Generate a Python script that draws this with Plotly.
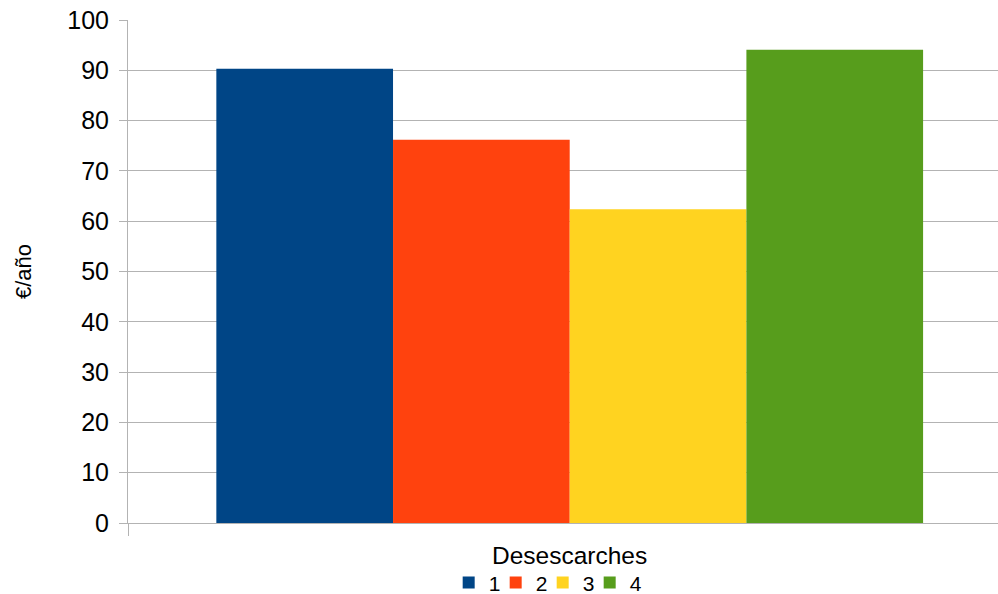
import plotly.graph_objects as go

series_names = ["1", "2", "3", "4"]
values = [90.3, 76.2, 62.4, 94.1]
colors = ["#004586", "#ff420e", "#ffd320", "#579d1c"]
category = [0]
y_ticks = [0, 10, 20, 30, 40, 50, 60, 70, 80, 90, 100]
x_title = "Desescarches"
y_title = "€/año"

FONT = "Liberation Sans, Arial, sans-serif"
GRID = "#b3b3b3"

fig = go.Figure()
for name, v, c in zip(series_names, values, colors):
    fig.add_trace(go.Bar(x=category, y=[v], name=name, marker=dict(color=c, line=dict(width=0))))
# invisible spacer entry so the last legend label is not clipped
fig.add_trace(go.Scatter(x=[None], y=[None], mode="markers", name=" ",
                         marker=dict(color="rgba(0,0,0,0)"), hoverinfo="skip"))

fig.update_layout(
    width=998, height=594,
    margin=dict(l=128, r=0, t=20, b=71, autoexpand=False),
    paper_bgcolor="white", plot_bgcolor="white",
    barmode="group", bargap=0.2, bargroupgap=0,
    font=dict(family=FONT, color="#000000", size=22),
    showlegend=True,
    legend=dict(orientation="h", x=0.3686, xanchor="left", y=-0.119, yanchor="middle",
                font=dict(size=21), entrywidth=2, itemclick=False, tracegroupgap=0),
)
fig.update_xaxes(
    range=[-0.5, 0.4848], tickvals=[-0.5], showticklabels=False, automargin=False,
    ticks="outside", ticklen=12, tickcolor=GRID, showgrid=False, zeroline=False,
    showline=True, linecolor=GRID,
)
# x-axis title centred under the bar group
fig.add_annotation(x=category[0], xref="x", y=-0.064, yref="paper", text=x_title,
                   showarrow=False, yanchor="middle", xanchor="center",
                   font=dict(size=24.5, family=FONT, color="#000000"))
fig.update_yaxes(
    range=[0, 100], tickvals=y_ticks, ticks="outside", ticklen=8, tickcolor=GRID,
    gridcolor=GRID, zeroline=False, showline=True, linecolor=GRID, automargin=False,
    tickfont=dict(size=25), ticklabelstandoff=5, ticklabeloverflow="allow",
    title=dict(text=y_title, font=dict(size=22), standoff=29),
)

fig.write_html("out.html", config={"displayModeBar": False},
               post_script="document.body.style.margin='0';")
